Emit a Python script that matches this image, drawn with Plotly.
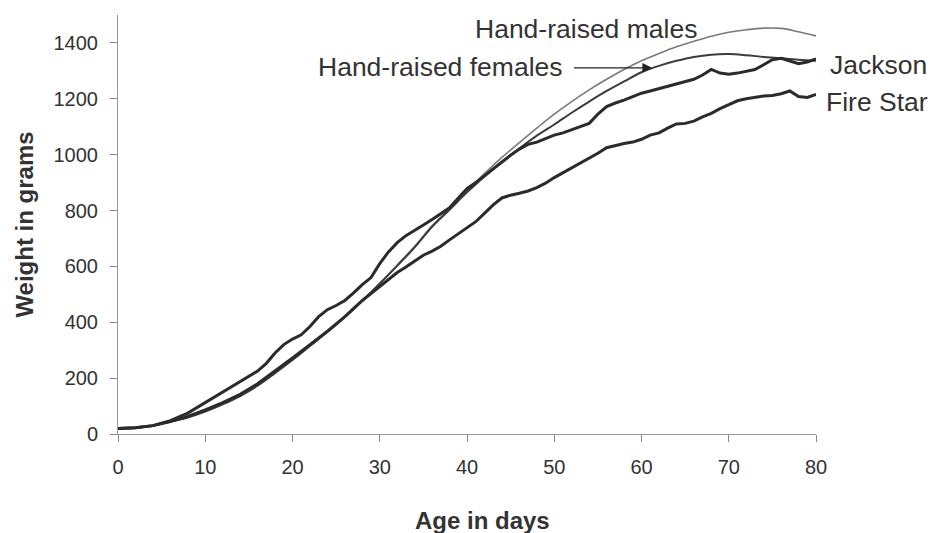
import plotly.graph_objects as go

# ---- data ----
males_days = [0, 2, 4, 6, 8, 10, 12, 14, 16, 18, 20, 22, 24, 26, 28, 30, 32, 34, 36, 38, 40,
              42, 44, 46, 48, 50, 52, 54, 56, 58, 60, 62, 64, 66, 68, 70, 72, 74, 76, 78, 80]
males_wt = [20, 22, 30, 45, 60, 82, 108, 138, 175, 220, 268, 318, 368, 420, 478, 540, 605, 672, 745, 806, 870,
            932, 990, 1043, 1095, 1145, 1190, 1232, 1270, 1305, 1336, 1362, 1386, 1406, 1424, 1438, 1447, 1453, 1452, 1440, 1425]

females_days = males_days
females_wt = [20, 22, 30, 44, 59, 80, 106, 136, 173, 218, 265, 315, 365, 418, 476, 538, 602, 668, 742, 803, 865,
              922, 975, 1022, 1068, 1108, 1150, 1190, 1228, 1262, 1295, 1318, 1336, 1350, 1358, 1360, 1356, 1350, 1345, 1340, 1336]

jackson_days = [0, 2, 4, 6, 8, 10, 12, 14, 15, 16, 17, 18, 19, 20, 21, 22, 23, 24, 25, 26, 27, 28, 29, 30,
                31, 32, 33, 34, 35, 36, 37, 38, 39, 40, 41, 42, 43, 44, 45, 46, 47, 48, 49, 50,
                51, 52, 53, 54, 55, 56, 57, 58, 59, 60, 61, 62, 63, 64, 65, 66, 67, 68, 69, 70,
                71, 72, 73, 74, 75, 76, 77, 78, 79, 80]
jackson_wt = [20, 22, 30, 48, 75, 112, 148, 186, 205, 225, 253, 290, 320, 340, 355, 385, 420, 445, 460, 478, 505, 535, 560, 610,
              652, 685, 710, 728, 748, 768, 788, 810, 845, 878, 900, 925, 950, 975, 998, 1020, 1037, 1045, 1058, 1070,
              1078, 1090, 1102, 1112, 1145, 1172, 1185, 1195, 1208, 1220, 1228, 1236, 1245, 1252, 1260, 1270, 1285, 1305, 1292, 1288,
              1292, 1298, 1305, 1322, 1340, 1345, 1335, 1326, 1332, 1343]

firestar_days = [0, 2, 4, 6, 8, 10, 12, 14, 16, 18, 20, 22, 24, 26, 28, 29, 30,
                 31, 32, 33, 34, 35, 36, 37, 38, 39, 40, 41, 42, 43, 44, 45, 46, 47, 48, 49, 50,
                 51, 52, 53, 54, 55, 56, 57, 58, 59, 60, 61, 62, 63, 64, 65, 66, 67, 68, 69, 70,
                 71, 72, 73, 74, 75, 76, 77, 78, 79, 80]
firestar_wt = [20, 22, 30, 45, 63, 86, 112, 142, 180, 225, 272, 320, 368, 420, 478, 503, 528,
               553, 578, 598, 620, 640, 655, 672, 695, 717, 738, 760, 790, 820, 845, 855, 862, 870, 882, 898, 918,
               935, 952, 968, 985, 1005, 1025, 1033, 1040, 1045, 1055, 1070, 1078, 1095, 1110, 1112, 1120, 1135, 1148, 1165, 1180,
               1193, 1200, 1206, 1210, 1212, 1218, 1228, 1208, 1205, 1216]

x_ticks = [0, 10, 20, 30, 40, 50, 60, 70, 80]
y_ticks = [0, 200, 400, 600, 800, 1000, 1200, 1400]

FONT = "Liberation Sans, Arial, sans-serif"

fig = go.Figure()
fig.add_trace(go.Scatter(x=males_days, y=males_wt, mode="lines", name="Hand-raised males",
                         line=dict(color="#7a7a7a", width=1.6, shape="spline")))
fig.add_trace(go.Scatter(x=females_days, y=females_wt, mode="lines", name="Hand-raised females",
                         line=dict(color="#3c3c3c", width=2, shape="spline")))
fig.add_trace(go.Scatter(x=firestar_days, y=firestar_wt, mode="lines", name="Fire Star",
                         line=dict(color="#2b2b2b", width=3)))
fig.add_trace(go.Scatter(x=jackson_days, y=jackson_wt, mode="lines", name="Jackson",
                         line=dict(color="#2b2b2b", width=3)))

# plot area geometry (in the page): left 118, right 816, top 15, bottom 434
PW, PH = 698, 419
ann_font = dict(family=FONT, size=26.5, color="#333333")
annotations = [
    dict(text="Hand-raised males", x=53.6, y=1450, xref="x", yref="y", showarrow=False,
         xanchor="center", yanchor="middle", font=ann_font),
    dict(text="Hand-raised females", x=51.2, y=1314, xref="x", yref="y", showarrow=False,
         xanchor="right", yanchor="middle", font=ann_font),
    dict(text="Jackson", x=(828 - 118) / PW, y=1321, xref="paper", yref="y", showarrow=False,
         xanchor="left", yanchor="middle", font=ann_font),
    dict(text="Fire Star", x=(824 - 118) / PW, y=1189, xref="paper", yref="y", showarrow=False,
         xanchor="left", yanchor="middle", font=ann_font),
    dict(text="", x=61.2, y=1311, ax=52.1, ay=1311, xref="x", yref="y", axref="x", ayref="y",
         showarrow=True, arrowhead=2, arrowsize=1.6, arrowwidth=1.2, arrowcolor="#222222"),
    dict(text="<b>Age in days</b>", x=(483 - 118) / PW, y=-(520 - 434) / PH, xref="paper", yref="paper",
         xanchor="center", yanchor="middle", showarrow=False,
         font=dict(family=FONT, size=24, color="#333333")),
]

# the page body adds an 8px offset, so margins are reduced by 8 on left/top
fig.update_layout(
    width=940, height=533,
    margin=dict(l=110, r=132, t=7, b=107),
    plot_bgcolor="white", paper_bgcolor="white",
    showlegend=False,
    annotations=annotations,
    font=dict(family=FONT, color="#333333"),
)

fig.update_xaxes(range=[0, 80], tickvals=x_ticks, ticktext=[str(v) for v in x_ticks],
                 showgrid=False, zeroline=False, showline=True, linecolor="#999999", linewidth=1,
                 ticks="outside", ticklen=7, tickcolor="#888888", tickwidth=1,
                 tickfont=dict(family=FONT, size=20, color="#333333"), ticklabelstandoff=8)
fig.update_yaxes(range=[0, 1500], tickvals=y_ticks, ticktext=[str(v) for v in y_ticks],
                 showgrid=False, zeroline=False, showline=True, linecolor="#999999", linewidth=1,
                 ticks="outside", ticklen=7, tickcolor="#888888", tickwidth=1,
                 tickfont=dict(family=FONT, size=20, color="#333333"), ticklabelstandoff=8,
                 title=dict(text="<b>Weight in grams</b>", font=dict(family=FONT, size=24, color="#333333"),
                            standoff=13))

fig.write_html("out.html")
